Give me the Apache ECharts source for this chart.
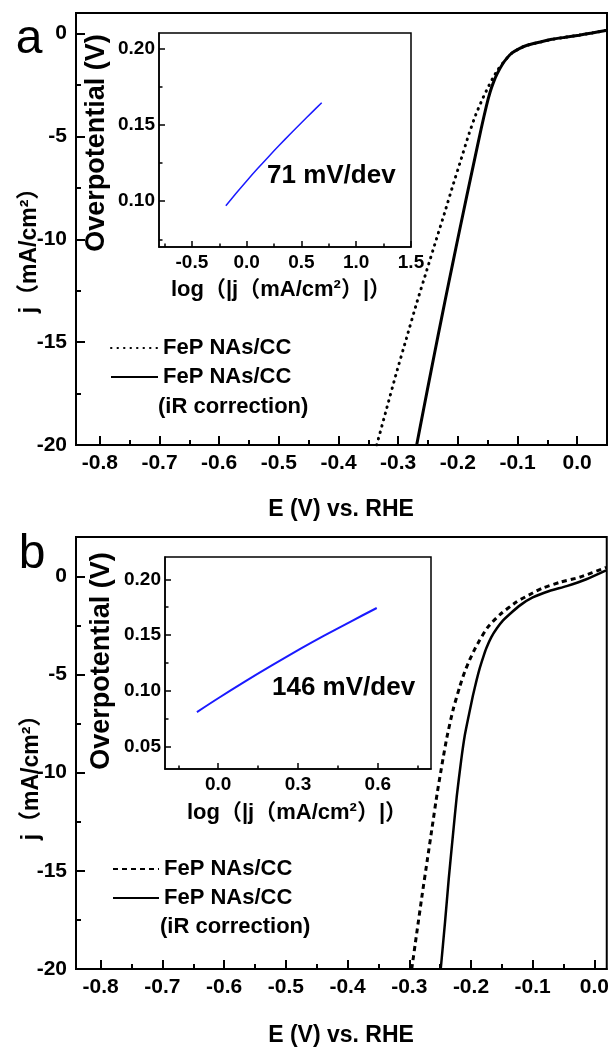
<!DOCTYPE html>
<html lang="en">
<head>
  <meta charset="UTF-8">
  <title>FeP NAs/CC HER polarization curves</title>
  <script src="https://cdn.jsdelivr.net/npm/echarts@6/dist/echarts.min.js"></script>
  <style>html, body { margin: 0; padding: 0; background: #fff; }</style>
</head>
<body>
  <div id="main" style="width:612px;height:1048px"></div>
  <script>
    // ---- panel a, polarization curves (E vs RHE, j in mA/cm2)
    var aRawE = [-0.336, -0.320, -0.303, -0.286, -0.269, -0.252, -0.236, -0.222, -0.209, -0.195, -0.181, -0.170, -0.159, -0.150, -0.142, -0.134, -0.125, -0.117, -0.109, -0.097, -0.085, -0.060, -0.042, -0.020, 0.003, 0.025, 0.048]
    var aRawJ = [-20, -18.3, -16.5, -14.8, -13.1, -11.5, -10.0, -8.7, -7.45, -6.15, -4.85, -3.95, -3.2, -2.65, -2.2, -1.8, -1.45, -1.17, -0.94, -0.73, -0.58, -0.40, -0.28, -0.18, -0.08, 0.03, 0.15]
    var aIrE = [-0.269, -0.257, -0.245, -0.233, -0.221, -0.209, -0.197, -0.185, -0.173, -0.161, -0.152, -0.146, -0.140, -0.134, -0.125, -0.117, -0.109, -0.097, -0.085, -0.060, -0.042, -0.020, 0.003, 0.025, 0.048]
    var aIrJ = [-20, -18.2, -16.42, -14.66, -12.93, -11.23, -9.55, -7.89, -6.26, -4.64, -3.5, -2.85, -2.35, -1.95, -1.48, -1.17, -0.94, -0.73, -0.58, -0.40, -0.28, -0.18, -0.08, 0.03, 0.15]
    // panel a inset, Tafel plot
    var aLogJ = [-0.19, -0.10, 0.0, 0.10, 0.20, 0.30, 0.40, 0.50, 0.60, 0.685]
    var aEta = [0.097, 0.1048, 0.1132, 0.1213, 0.1291, 0.1367, 0.1441, 0.1513, 0.1584, 0.1644]

    // ---- panel b
    var bRawE = [-0.296, -0.288, -0.279, -0.271, -0.263, -0.255, -0.247, -0.239, -0.229, -0.218, -0.210, -0.202, -0.194, -0.186, -0.173, -0.153, -0.126, -0.100, -0.084, -0.055, -0.024, 0.019]
    var bRawJ = [-20, -18.2, -16.2, -14.5, -12.8, -11.1, -9.6, -8.2, -6.8, -5.6, -4.85, -4.25, -3.72, -3.26, -2.6, -1.95, -1.3, -0.85, -0.6, -0.3, -0.05, 0.45]
    var bIrE = [-0.249, -0.242, -0.236, -0.229, -0.223, -0.216, -0.210, -0.203, -0.197, -0.191, -0.186, -0.180, -0.175, -0.167, -0.158, -0.148, -0.137, -0.120, -0.100, -0.073, -0.045, -0.013, 0.019]
    var bIrJ = [-20, -17.6, -15.4, -13.1, -11.2, -9.4, -8.1, -7.0, -6.1, -5.3, -4.7, -4.1, -3.65, -3.1, -2.65, -2.25, -1.92, -1.47, -1.08, -0.75, -0.5, -0.15, 0.3]
    var bLogJ = [-0.08, 0.0, 0.10, 0.20, 0.31, 0.40, 0.50, 0.596]
    var bEta = [0.081, 0.0934, 0.1083, 0.1226, 0.1378, 0.1497, 0.1624, 0.1743]

    // tick labels
    var mainXTicks = [-0.8, -0.7, -0.6, -0.5, -0.4, -0.3, -0.2, -0.1, 0.0]
    var mainXMinor = [-0.75, -0.65, -0.55, -0.45, -0.35, -0.25, -0.15, -0.05]
    var mainYTicks = [0, -5, -10, -15, -20]
    var mainYMinor = [-2.5, -7.5, -12.5, -17.5]
    var aInsetXTicks = [-0.5, 0.0, 0.5, 1.0, 1.5]
    var aInsetXMinor = [-0.75, -0.25, 0.25, 0.75, 1.25]
    var aInsetYTicks = [0.10, 0.15, 0.20]
    var aInsetYMinor = [0.075, 0.125, 0.175]
    var bInsetXTicks = [0.0, 0.3, 0.6]
    var bInsetXMinor = [-0.15, 0.15, 0.45, 0.75]
    var bInsetYTicks = [0.05, 0.10, 0.15, 0.20]
    var bInsetYMinor = [0.075, 0.125, 0.175]

    var FONT = '"Liberation Sans", Arial, "Noto Sans CJK SC", sans-serif'

    function pairs(xs, ys) {
      return xs.map(function (x, i) { return [x, ys[i]] })
    }
    function fixed(n) {
      return function (v) { return Number(v).toFixed(n) }
    }

    function axis(grid, pos, min, max, ticks, fmt, o) {
      return {
        type: 'value', gridIndex: grid, position: pos, min: min, max: max,
        axisLine: { show: true, onZero: false, lineStyle: { color: '#000', width: o.lw } },
        axisTick: { show: true, inside: true, length: o.tick, customValues: ticks, lineStyle: { color: '#000', width: o.lw } },
        axisLabel: { customValues: ticks, formatter: fmt, color: '#000', fontFamily: FONT, fontWeight: 'bold', fontSize: o.fs, margin: o.margin },
        splitLine: { show: false }
      }
    }
    function minor(grid, pos, min, max, ticks, len, lw) {
      return {
        type: 'value', gridIndex: grid, position: pos, min: min, max: max,
        axisLine: { show: false, onZero: false },
        axisLabel: { show: false },
        axisTick: { show: true, inside: true, length: len, customValues: ticks, lineStyle: { color: '#000', width: lw } },
        splitLine: { show: false }
      }
    }

    var mainO = { lw: 2, tick: 9, fs: 21, margin: 8 }
    var mainOY = { lw: 2, tick: 9, fs: 21, margin: 9 }
    var insO = { lw: 1.5, tick: 6, fs: 19, margin: 6 }
    var insOY = { lw: 1.5, tick: 6, fs: 19, margin: 4 }

    function txt(x, y, text, size, rot, weight) {
      return {
        type: 'text', x: x, y: y, rotation: rot || 0, z: 100,
        style: { text: text, fill: '#000', font: (weight || 'bold') + ' ' + size + 'px ' + FONT, align: 'center', verticalAlign: 'middle' }
      }
    }
    function leftTxt(x, y, text, size, weight) {
      var t = txt(x, y, text, size, 0, weight)
      t.style.align = 'left'
      return t
    }
    function legend(names, left, top, w) {
      return {
        data: names, orient: 'vertical', left: left, top: top,
        itemWidth: w, itemHeight: 14, itemGap: 3, selectedMode: false,
        itemStyle: { opacity: 0 },
        formatter: function () { return 'FeP NAs/CC' },
        textStyle: { color: '#000', fontFamily: FONT, fontWeight: 'bold', fontSize: 22, lineHeight: 26 }
      }
    }

    var mCharts = echarts.init(document.getElementById('main'))
    var option = {
      animation: false,
      color: ['#000'],
      grid: [
        { left: 76, top: 13, width: 531, height: 432, show: true, borderColor: '#000', borderWidth: 2 },
        { left: 159, top: 33, width: 252, height: 214, show: true, borderColor: '#000', borderWidth: 1.5, backgroundColor: '#fff' },
        { left: 76, top: 537, width: 531, height: 432, show: true, borderColor: '#000', borderWidth: 2 },
        { left: 165, top: 557, width: 266, height: 212, show: true, borderColor: '#000', borderWidth: 1.5, backgroundColor: '#fff' }
      ],
      xAxis: [
        axis(0, 'bottom', -0.84, 0.05, mainXTicks, fixed(1), mainO),
        minor(0, 'bottom', -0.84, 0.05, mainXMinor, 5, 2),
        axis(1, 'bottom', -0.8, 1.5, aInsetXTicks, fixed(1), insO),
        minor(1, 'bottom', -0.8, 1.5, aInsetXMinor, 3.5, 1.5),
        axis(2, 'bottom', -0.84, 0.02, mainXTicks, fixed(1), mainO),
        minor(2, 'bottom', -0.84, 0.02, mainXMinor, 5, 2),
        axis(3, 'bottom', -0.2, 0.8, bInsetXTicks, fixed(1), insO),
        minor(3, 'bottom', -0.2, 0.8, bInsetXMinor, 3.5, 1.5)
      ],
      yAxis: [
        axis(0, 'left', -20, 1, mainYTicks, fixed(0), mainOY),
        minor(0, 'left', -20, 1, mainYMinor, 5, 2),
        axis(1, 'left', 0.07, 0.21, aInsetYTicks, fixed(2), insOY),
        minor(1, 'left', 0.07, 0.21, aInsetYMinor, 3.5, 1.5),
        axis(2, 'left', -20, 2, mainYTicks, fixed(0), mainOY),
        minor(2, 'left', -20, 2, mainYMinor, 5, 2),
        axis(3, 'left', 0.03, 0.22, bInsetYTicks, fixed(2), insOY),
        minor(3, 'left', 0.03, 0.22, bInsetYMinor, 3.5, 1.5)
      ],
      legend: [
        legend(['a: FeP NAs/CC', 'a: FeP NAs/CC (iR correction)'], 105, 330, 47),
        legend(['b: FeP NAs/CC', 'b: FeP NAs/CC (iR correction)'], 107, 851, 46)
      ],
      series: [
        {
          name: 'a: FeP NAs/CC', type: 'line', xAxisIndex: 0, yAxisIndex: 0, data: pairs(aRawE, aRawJ),
          symbol: 'none', smooth: 0.2, itemStyle: { color: '#000' },
          lineStyle: { color: '#000', width: 3, type: [0.5, 6], cap: 'round' }
        },
        {
          name: 'a: FeP NAs/CC (iR correction)', type: 'line', xAxisIndex: 0, yAxisIndex: 0, data: pairs(aIrE, aIrJ),
          symbol: 'none', smooth: 0.2, itemStyle: { color: '#000' }, lineStyle: { color: '#000', width: 3 }
        },
        {
          name: 'a: Tafel', type: 'line', xAxisIndex: 2, yAxisIndex: 2, data: pairs(aLogJ, aEta),
          symbol: 'none', smooth: 0.3, lineStyle: { color: '#1a1aff', width: 1.5 }
        },
        {
          name: 'b: FeP NAs/CC', type: 'line', xAxisIndex: 4, yAxisIndex: 4, data: pairs(bRawE, bRawJ),
          symbol: 'none', smooth: 0.2, itemStyle: { color: '#000' }, lineStyle: { color: '#000', width: 3, type: [5, 4] }
        },
        {
          name: 'b: FeP NAs/CC (iR correction)', type: 'line', xAxisIndex: 4, yAxisIndex: 4, data: pairs(bIrE, bIrJ),
          symbol: 'none', smooth: 0.2, itemStyle: { color: '#000' }, lineStyle: { color: '#000', width: 2.5 }
        },
        {
          name: 'b: Tafel', type: 'line', xAxisIndex: 6, yAxisIndex: 6, data: pairs(bLogJ, bEta),
          symbol: 'none', smooth: 0.3, lineStyle: { color: '#1a1aff', width: 2 }
        }
      ],
      graphic: [
        txt(29, 40, 'a', 48, 0, 'normal'),
        txt(341, 510, 'E (V) vs. RHE', 23),
        txt(30, 245, 'j（mA/cm²）', 23, Math.PI / 2),
        txt(97, 143, 'Overpotential (V)', 27, Math.PI / 2),
        txt(281, 290, 'log（|j（mA/cm²）|）', 22),
        leftTxt(267, 176, '71 mV/dev', 26),
        leftTxt(158, 407, '(iR correction)', 22),

        txt(32, 555, 'b', 48, 0, 'normal'),
        txt(341, 1036, 'E (V) vs. RHE', 23),
        txt(32, 772, 'j（mA/cm²）', 23, Math.PI / 2),
        txt(102, 661, 'Overpotential (V)', 27, Math.PI / 2),
        txt(297, 813, 'log（|j（mA/cm²）|）', 22),
        leftTxt(272, 688, '146 mV/dev', 26),
        leftTxt(160, 927, '(iR correction)', 22)
      ]
    }
    mCharts.setOption(option)
  </script>
</body>
</html>
